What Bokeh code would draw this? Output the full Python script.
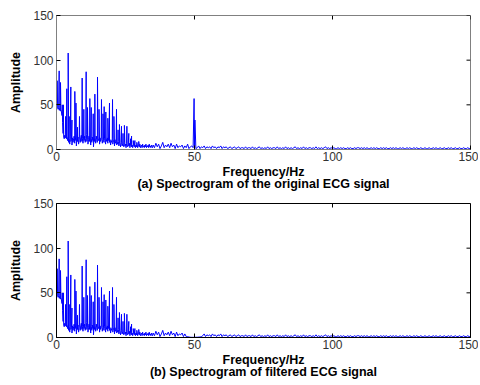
import numpy as np
from bokeh.plotting import figure
from bokeh.layouts import column
from bokeh.models import Range1d, FixedTicker
from bokeh.embed import file_html
from bokeh.resources import INLINE

# ---------------- data ----------------
x_ticks = [0, 50, 100, 150]
y_ticks = [0, 50, 100, 150]

# 0-35 Hz floor of the spectrum, 0.2 Hz bins
floor_step = 0.2
floor_amp = [48, 46, 50, 45, 47, 44, 46, 43, 45, 42,
             38, 30, 18, 14, 12, 16, 13, 18, 12, 15,
             10, 14, 8, 12, 6, 15, 9, 11, 5, 13,
             8, 12, 15, 7, 14, 10, 4, 12, 9, 14,
             6, 11, 15, 8, 13, 16, 9, 12, 7, 14,
             10, 15, 8, 12, 17, 9, 13, 6, 11, 15,
             9, 13, 5, 12, 8, 14, 10, 3, 12, 9,
             13, 7, 15, 11, 8, 14, 10, 12, 6, 13,
             9, 12, 15, 7, 11, 14, 8, 12, 10, 6,
             12, 9, 13, 7, 10, 14, 8, 11, 5, 10,
             8, 12, 6, 10, 9, 4, 11, 7, 9, 5,
             8, 6, 9, 4, 7, 8, 3, 6, 8, 4,
             7, 5, 3, 8, 4, 6, 2, 7, 5, 3,
             6, 4, 7, 2, 5, 6, 3, 5, 2, 6,
             4, 3, 6, 2, 5, 3, 7, 2, 4, 5,
             3, 6, 2, 4, 5, 2, 6, 3, 4, 2,
             5, 3, 6, 2, 4, 3, 5, 2, 6, 3,
             4, 2, 5, 3, 2]

# heart-rate harmonic needles, 0-30 Hz
peak_freq = [0.24, 0.97, 1.45, 2.1, 2.5, 3.3, 3.74, 4.23, 4.6, 5.19,
             5.6, 6.64, 7.05, 7.6, 8.33, 9.3, 9.9, 10.75, 11.23, 12.08,
             12.6, 13.3, 13.9, 14.86, 15.4, 16.3, 16.85, 17.27, 17.87, 18.6,
             19.2, 20.3, 20.8, 21.74, 22.3, 22.8, 23.55, 24.1, 24.6, 25.5,
             26.2, 26.8, 27.2, 27.8, 28.4, 29.1, 29.8]
peak_amp = [77, 88, 75, 50, 50, 37, 68, 108, 37, 70,
            33, 65, 52, 25, 37, 80, 45, 87, 47, 57,
            47, 40, 62, 81, 45, 56, 40, 48, 42, 35,
            52, 56, 37, 45, 22, 28, 26, 18, 27, 26,
            18, 12, 15, 10, 10, 8, 9]

# 35-150 Hz noise floor, 0.5 Hz bins
hi_start, hi_step = 35.0, 0.5
hi_amp = [5, 2, 7, 3, 6, 1, 4, 8, 2, 5, 3, 6, 2, 7, 3, 5, 1, 6, 2, 4,
          3, 5, 1, 4, 2, 6, 1, 3, 4, 2, 2, 1, 2, 4, 1, 3, 2, 4, 1, 3,
          2, 3, 1, 4, 2, 3, 1, 3, 2, 4, 1, 3, 2, 3, 1, 2, 3, 1, 2, 3,
          1, 2, 3, 1, 2, 2, 1, 3, 1, 2, 2, 1, 3, 1, 2, 1, 2, 3, 1, 2,
          1, 2, 1, 3, 1, 2, 1, 2, 2, 1, 3, 1, 2, 1, 2, 1, 3, 1, 2, 1,
          2, 1, 2, 3, 1, 2, 1, 2, 1, 3, 1, 2, 1, 2, 2, 1, 2, 1, 3, 1,
          2, 1, 2, 1, 2, 3, 1, 2, 1, 2, 1, 2, 1, 1, 2, 1, 2, 1, 2, 1,
          1, 2, 1, 2, 1, 1, 2, 1, 2, 2, 1, 2, 1, 2, 1, 2, 1, 1, 2, 1,
          2, 1, 2, 1, 1, 2, 1, 2, 1, 2, 1, 1, 2, 1, 2, 1, 2, 1, 1, 2,
          1, 2, 1, 1, 2, 1, 2, 1, 1, 2, 1, 2, 1, 1, 2, 1, 1, 2, 1, 1,
          2, 1, 1, 2, 1, 2, 1, 1, 2, 1, 1, 2, 1, 1, 2, 1, 2, 1, 1, 2,
          1, 1, 2, 1, 1, 2, 1, 1, 2, 1, 1]

# 50 Hz power-line interference (original signal only)
mains_freq = [49.85, 50.15]
mains_amp = [57, 33]

# filtered signal: notch around 50 Hz
notch_freq = [47.0, 47.5, 48.0, 48.5, 49.0, 49.5, 50.0, 50.5, 51.0, 51.5, 52.0, 52.5, 53.0]
notch_amp = [1, 1, 0.5, 0.3, 0.2, 0.2, 0.2, 0.3, 0.3, 0.5, 0.5, 1, 2]

# ---------------- assemble series ----------------
floor_freq = list(floor_step * np.arange(len(floor_amp)))
hi_freq = list(hi_start + hi_step * np.arange(len(hi_amp)))
hi_filtered = list(hi_amp)
for f, a in zip(notch_freq, notch_amp):
    hi_filtered[int(round((f - hi_start) / hi_step))] = a


def merged(pairs):
    pairs = sorted(pairs, key=lambda t: t[0])
    return [t[0] for t in pairs], [t[1] for t in pairs]


orig_f, orig_a = merged(list(zip(floor_freq, floor_amp)) + list(zip(peak_freq, peak_amp))
                        + list(zip(hi_freq, hi_amp)) + list(zip(mains_freq, mains_amp)))
filt_f, filt_a = merged(list(zip(floor_freq, floor_amp)) + list(zip(peak_freq, peak_amp))
                        + list(zip(hi_freq, hi_filtered)))

FONT = "Liberation Sans"
FRAME_W, FRAME_H = 414, 134
TICK_PX = 4


def make_panel(freq, amp, caption, frame_color, top):
    x0, x1, y0, y1 = x_ticks[0], x_ticks[-1], y_ticks[0], y_ticks[-1]
    p = figure(frame_width=FRAME_W, frame_height=FRAME_H, output_backend="svg",
               toolbar_location=None,
               x_range=Range1d(x0, x1), y_range=Range1d(y0, y1),
               min_border_left=56, min_border_right=8, min_border_top=top,
               min_border_bottom=30)
    p.grid.visible = False
    p.outline_line_color = frame_color
    p.outline_line_width = 1
    p.background_fill_color = "white"
    p.border_fill_color = "white"

    p.line(freq, amp, line_color="#0000FF", line_width=1)

    # MATLAB-style inward ticks on the top and right edges of the box
    dy = (y1 - y0) / FRAME_H * TICK_PX
    dx = (x1 - x0) / FRAME_W * TICK_PX
    p.segment(x0=x_ticks, y0=[y1] * len(x_ticks), x1=x_ticks, y1=[y1 - dy] * len(x_ticks),
              line_color="#000000", line_width=1)
    p.segment(x0=[x1] * len(y_ticks), y0=y_ticks, x1=[x1 - dx] * len(y_ticks), y1=y_ticks,
              line_color="#000000", line_width=1)

    for ax, ticks in ((p.xaxis[0], x_ticks), (p.yaxis[0], y_ticks)):
        ax.ticker = FixedTicker(ticks=ticks)
        ax.major_tick_in = TICK_PX
        ax.major_tick_out = 0
        ax.minor_tick_line_color = None
        ax.major_tick_line_color = "#000000"
        ax.axis_line_color = frame_color
        ax.major_label_text_font = FONT
        ax.major_label_text_font_size = "12px"
        ax.major_label_text_color = "#333333"
        ax.major_label_standoff = 2
        ax.axis_label_text_font = FONT
        ax.axis_label_text_font_size = "12.5px"
        ax.axis_label_text_font_style = "bold"
        ax.axis_label_text_color = "#000000"

    p.xaxis[0].axis_label = "Frequency/Hz\n" + caption
    p.xaxis[0].axis_label_text_line_height = 0.9
    p.xaxis[0].axis_label_standoff = 1
    p.yaxis[0].major_label_standoff = 3
    p.yaxis[0].axis_label = "Amplitude"
    p.yaxis[0].axis_label_standoff = 7
    return p


p1 = make_panel(orig_f, orig_a, "(a) Spectrogram of the original ECG signal", "#808080", 15)
p2 = make_panel(filt_f, filt_a, "(b) Spectrogram of filtered ECG signal", "#000000", 9)

layout = column(p1, p2, spacing=0)

open("out.html", "w").write(file_html(layout, INLINE))
